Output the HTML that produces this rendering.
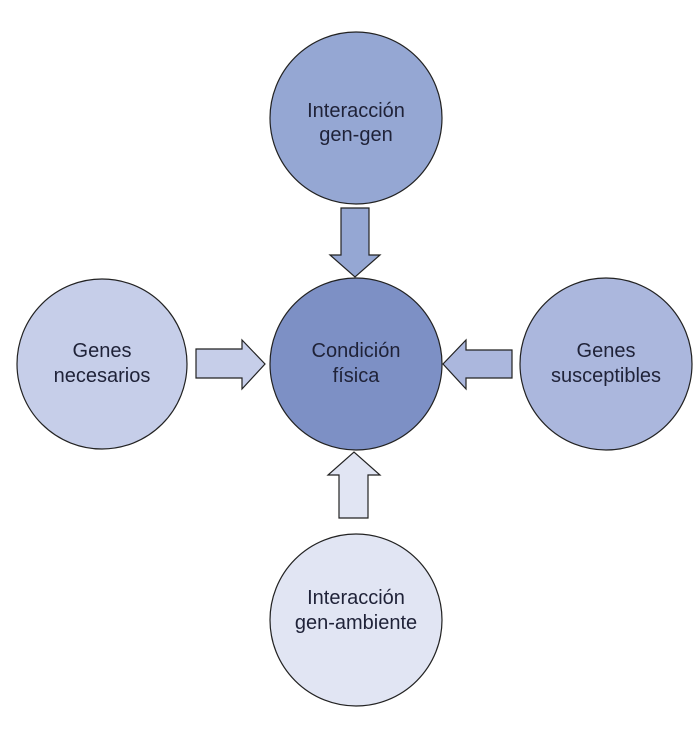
<!DOCTYPE html>
<html><head><style>
html,body{margin:0;padding:0;background:#fff;}
svg{display:block}
text{font-family:"Liberation Sans",sans-serif;font-size:20px;fill:#1f2238;text-anchor:middle}
</style></head><body>
<svg width="700" height="739" viewBox="0 0 700 739">
<g stroke="#222" stroke-width="1.2">
<circle cx="356" cy="118" r="86" fill="#95a7d3"/>
<circle cx="356" cy="364" r="86" fill="#7d90c5"/>
<circle cx="102" cy="364" r="85" fill="#c6cee9"/>
<circle cx="606" cy="364" r="86" fill="#abb7dd"/>
<circle cx="356" cy="620" r="86" fill="#e1e5f3"/>
<polygon points="341,208 369,208 369,255 380,255 355,277 330,255 341,255" fill="#95a7d3"/>
<polygon points="196,349 242,349 242,340 265,364 242,389 242,378 196,378" fill="#c6cee9"/>
<polygon points="512,350 466,350 466,340 443,364 466,389 466,378 512,378" fill="#abb7dd"/>
<polygon points="339,518 368,518 368,475 380,475 354,452 328,475 339,475" fill="#e1e5f3"/>
</g>
<text x="356" y="117">Interacción</text><text x="356" y="141">gen-gen</text>
<text x="356" y="357">Condición</text><text x="356" y="382">física</text>
<text x="102" y="357">Genes</text><text x="102" y="382">necesarios</text>
<text x="606" y="357">Genes</text><text x="606" y="382">susceptibles</text>
<text x="356" y="604">Interacción</text><text x="356" y="629">gen-ambiente</text>
</svg>
</body></html>
